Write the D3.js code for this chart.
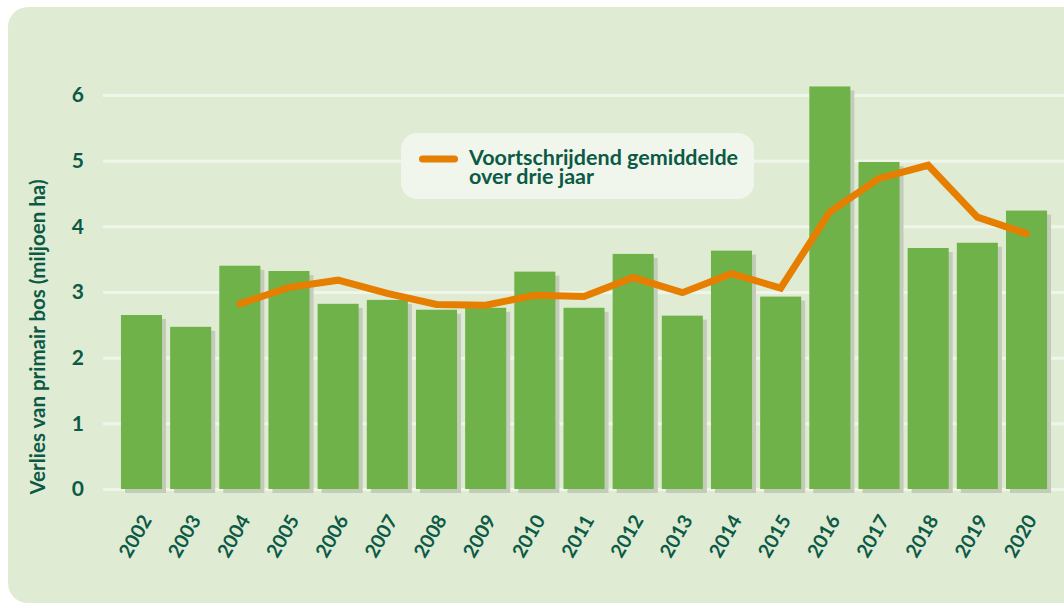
<!DOCTYPE html>
<html>
<head>
<meta charset="utf-8">
<script src="https://cdn.jsdelivr.net/npm/d3@7"></script>
<style>
  body { margin: 0; background: #fff; }
  text { font-family: Lato, "Noto Sans", sans-serif; font-weight: 700; fill: #0b5a45; }
</style>
</head>
<body>
<svg id="chart"></svg>
<script>
const years = ["2002", "2003", "2004", "2005", "2006", "2007", "2008", "2009", "2010", "2011",
  "2012", "2013", "2014", "2015", "2016", "2017", "2018", "2019", "2020"];
const loss = [2.65, 2.47, 3.40, 3.32, 2.82, 2.88, 2.73, 2.76, 3.31, 2.76,
  3.58, 2.64, 3.63, 2.93, 6.13, 4.98, 3.67, 3.75, 4.24];
const avgYears = years.slice(2);
const avg = [2.82, 3.07, 3.18, 2.98, 2.81, 2.80, 2.95, 2.93, 3.22, 2.99,
  3.28, 3.06, 4.22, 4.73, 4.93, 4.14, 3.89];
const yTicks = [0, 1, 2, 3, 4, 5, 6];

const width = 1064;
const height = 603;
const margin = { top: 95, right: 0, bottom: 115, left: 103 };

const svg = d3.select("#chart").attr("width", width).attr("height", height);

// panel background
svg.append("rect")
  .attr("x", 8).attr("y", 7)
  .attr("width", width + 30).attr("height", height - 7)
  .attr("rx", 20)
  .attr("fill", "#e0ebd4");

const x = d3.scaleBand()
  .domain(years)
  .range([118.5, 1049.5])
  .paddingInner(0.165)
  .paddingOuter(0.05);

const y = d3.scaleLinear()
  .domain([0, 6])
  .range([489, 95]);

// gridlines + y labels
const yAxis = d3.axisLeft(y)
  .tickValues(yTicks)
  .tickFormat(d3.format("d"))
  .tickSize(-(width - margin.left));

const gy = svg.append("g")
  .attr("transform", `translate(${margin.left},0)`)
  .call(yAxis);
gy.select(".domain").remove();
gy.selectAll(".tick line").attr("stroke", "#f0f5ea").attr("stroke-width", 3);
gy.selectAll(".tick text").attr("font-size", 21).attr("x", -19);

// bar shadows
svg.append("g")
  .selectAll("rect")
  .data(loss)
  .join("rect")
  .attr("x", (d, i) => x(years[i]) + 4)
  .attr("y", (d) => y(d) + 4)
  .attr("width", x.bandwidth())
  .attr("height", (d) => y(0) - y(d))
  .attr("fill", "#c3cbb9");

// bars
svg.append("g")
  .selectAll("rect")
  .data(loss)
  .join("rect")
  .attr("x", (d, i) => x(years[i]))
  .attr("y", (d) => y(d))
  .attr("width", x.bandwidth())
  .attr("height", (d) => y(0) - y(d))
  .attr("fill", "#70b24a");

// moving average line
const line = d3.line()
  .x((d, i) => x(avgYears[i]) + x.bandwidth() / 2)
  .y((d) => y(d));

svg.append("path")
  .datum(avg)
  .attr("d", line)
  .attr("fill", "none")
  .attr("stroke", "#e67e00")
  .attr("stroke-width", 7)
  .attr("stroke-linecap", "round");

// x labels
const xAxis = d3.axisBottom(x).tickSize(0).tickPadding(0);
const gx = svg.append("g")
  .attr("transform", `translate(0,${y(0)})`)
  .call(xAxis);
gx.select(".domain").remove();
gx.selectAll(".tick text")
  .attr("font-size", 19.5)
  .attr("text-anchor", "end")
  .attr("dy", 0)
  .attr("transform", "translate(11,31) rotate(-60)");

// y title
svg.append("text")
  .attr("transform", "translate(45,337) rotate(-90)")
  .attr("text-anchor", "middle")
  .attr("font-size", 20.5)
  .text("Verlies van primair bos (miljoen ha)");

// legend
const legend = svg.append("g");
legend.append("rect")
  .attr("x", 401).attr("y", 133)
  .attr("width", 353).attr("height", 66)
  .attr("rx", 16)
  .attr("fill", "#f1f6ec");
legend.append("line")
  .attr("x1", 422.5).attr("x2", 454.5)
  .attr("y1", 159).attr("y2", 159)
  .attr("stroke", "#e67e00")
  .attr("stroke-width", 7)
  .attr("stroke-linecap", "round");
const legendText = legend.append("text")
  .attr("x", 469).attr("y", 165)
  .attr("font-size", 21.5);
legendText.append("tspan").attr("x", 469).text("Voortschrijdend gemiddelde");
legendText.append("tspan").attr("x", 469).attr("dy", 19).text("over drie jaar");
</script>
</body>
</html>
